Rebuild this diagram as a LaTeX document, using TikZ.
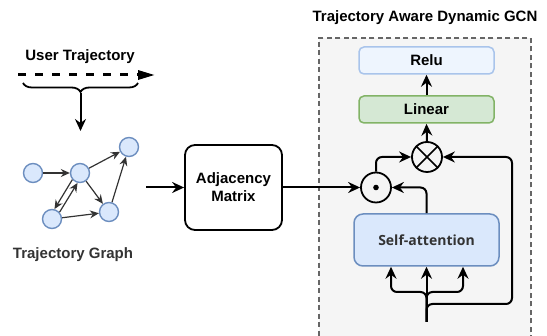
\documentclass[tikz,border=0pt]{standalone}
\usepackage{fontspec}
\setmainfont{Liberation Sans}
\newfontfamily\safont{Open Sans}
\usetikzlibrary{arrows.meta,decorations.pathreplacing,calc}
\definecolor{relufill}{HTML}{EEF5FE}
\definecolor{reludraw}{HTML}{A9C4EB}
\definecolor{bluefill}{HTML}{DAE8FC}
\definecolor{bluedraw}{HTML}{6C8EBF}
\definecolor{greenfill}{HTML}{D5E8D4}
\definecolor{greendraw}{HTML}{82B366}
\definecolor{gcnfill}{HTML}{F5F5F5}
\definecolor{gcndraw}{HTML}{666666}
\definecolor{txtgray}{HTML}{333333}
\tikzset{
  lbl/.style={font=\fontsize{15}{17}\selectfont\bfseries, inner sep=0pt},
  arr/.style={line width=2pt, -{Stealth[length=12pt,width=11pt,inset=4pt]}},
  garr/.style={line width=1.2pt, draw=txtgray, -{Stealth[length=9pt,width=8pt,inset=3pt]}},
  gnode/.style={circle, minimum size=19pt, inner sep=0pt, fill=bluefill, draw=bluedraw, line width=1.4pt},
  opnode/.style={circle, minimum size=30pt, inner sep=0pt, draw=black, line width=1.8pt},
  layerbox/.style={rectangle, rounded corners=5pt, minimum width=135pt, minimum height=27pt, line width=1.5pt, font=\fontsize{15}{17}\selectfont\bfseries},
}
\begin{document}
\begin{tikzpicture}[x=1pt,y=-1pt]
\useasboundingbox (0,0) rectangle (547,336);
\begin{scope}
\clip (0,0) rectangle (547,336);
\node[rectangle, anchor=north west, minimum width=212pt, minimum height=320pt, fill=gcnfill, draw=gcndraw, line width=1.6pt, dash pattern=on 5pt off 3.5pt] (gcn) at (318,37) {};
\end{scope}
\node[lbl] (title) at (425,18) {Trajectory Aware Dynamic GCN};

% user trajectory
\node[lbl] (ut) at (80,57) {User Trajectory};
\coordinate (ts) at (18,75);
\coordinate (te) at (155,75);
\draw[line width=3pt, dash pattern=on 8pt off 9pt, -{Triangle[length=17pt,width=9pt]}] (ts) -- (te);
\coordinate (bl) at (23,83);
\coordinate (br) at (138,83);
\draw[line width=1.8pt, decorate, decoration={brace, amplitude=9pt, mirror}] (bl) -- (br);
\coordinate (bt) at (80.5,93);
\coordinate (be) at (80.5,131);
\draw[arr] (bt) -- (be);

% graph
\node[gnode] (A) at (33,173) {};
\node[gnode] (B) at (80,173) {};
\node[gnode] (C) at (129,147) {};
\node[gnode] (D) at (52,219) {};
\node[gnode] (E) at (109,212) {};
\draw[garr] (A) -- (B);
\draw[garr] (B) -- (C);
\draw[garr] (B) -- (E);
\draw[garr] (E) -- (C);
\draw[garr] (D) -- (E);
\draw[garr] (B.221) -- (D.76);
\draw[garr] (D.42) -- (B.256);
\node[font=\fontsize{15}{17}\selectfont\bfseries, text=txtgray, inner sep=0pt] (tg) at (73,255) {Trajectory Graph};

% adjacency
\node[rectangle, rounded corners=10pt, minimum width=97pt, minimum height=85pt, draw=black, line width=1.8pt, fill=white, align=center, font=\fontsize{15}{18}\selectfont\bfseries] (adj) at (233.5,187.5) {Adjacency\\Matrix};
\coordinate (g1) at (146,187.5);
\draw[arr] (g1) -- (adj.west);

% GCN internals
\node[layerbox, fill=relufill, draw=reludraw] (relu) at (426.5,60.5) {Relu};
\node[layerbox, fill=greenfill, draw=greendraw] (lin) at (426.5,109.5) {Linear};
\node[opnode] (ot) at (427,157) {};
\draw[line width=1.6pt] (ot.45) -- (ot.225) (ot.135) -- (ot.-45);
\node[opnode] (od) at (376,187.5) {};
\fill (od.center) circle (2.8pt);
\node[rectangle, rounded corners=9pt, minimum width=145pt, minimum height=52pt, fill=bluefill, draw=bluedraw, line width=1.5pt, font=\safont\fontsize{14}{16}\selectfont\bfseries, text=txtgray] (sa) at (426.5,240) {Self-attention};

\draw[arr] (adj.east) -- (od.west);
\draw[arr, rounded corners=6pt] (sa.north) |- (od.east);
\draw[arr, rounded corners=6pt] (od.north) |- (ot.west);
\draw[arr] (ot.north) -- (lin.south);
\draw[arr] (lin.north) -- (relu.south);

\coordinate (in) at (426.5,322);
\coordinate (lb) at (391,292);
\coordinate (rb) at (463,292);
\coordinate (loop) at (512,304);
\draw[arr] (in) -- (sa.south);
\draw[arr, rounded corners=6pt] (in) |- (lb) -- (lb |- sa.south);
\draw[arr, rounded corners=6pt] (in) |- (rb) -- (rb |- sa.south);
\draw[arr, rounded corners=6pt] (in) |- (loop) |- (ot.east);
\end{tikzpicture}
\end{document}
